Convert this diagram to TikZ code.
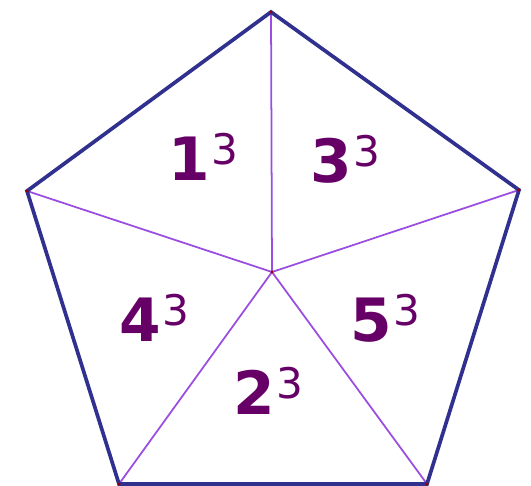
\documentclass[tikz,border=0pt]{standalone}
\usepackage{fontspec}
\setsansfont{DejaVu Sans}
\usepackage{xcolor}
\usetikzlibrary{positioning}
\definecolor{edgeblue}{HTML}{30308F}
\definecolor{spoke}{HTML}{9A4DE0}
\definecolor{numpurple}{HTML}{660066}
\tikzset{
  cube/.style={text=numpurple, font=\sffamily\bfseries\fontsize{34}{34}\selectfont, inner sep=0pt},
}
\newcommand{\cubed}[1]{#1\textsuperscript{\mdseries\fontsize{24}{24}\selectfont\kern1pt 3}}

\begin{document}
\begin{tikzpicture}[x=0.02cm, y=-0.02cm]
    \useasboundingbox (0,0) rectangle (531,486);
    \coordinate (t) at (271,12);
    \coordinate (r) at (519,190);
    \coordinate (br) at (427,484);
    \coordinate (bl) at (119,484);
    \coordinate (l) at (27,191);
    \coordinate (c) at (272,272);
    \foreach \v in {t,r,br,bl,l} { \draw[spoke, line width=1pt] (c) -- (\v); }
    \draw[edgeblue, line width=2.1pt, line join=miter] (t) -- (r) -- (br) -- (bl) -- (l) -- cycle;
    \foreach \v in {t,r,br,bl,l,c} { \fill[red!60!black] (\v) circle (1.6); }
    \node[cube] (one) at (204,157) {\cubed{1}};
    \node[cube] (three) at (346,159) {\cubed{3}};
    \node[cube] (four) at (155,318) {\cubed{4}};
    \node[cube] (five) at (386,318) {\cubed{5}};
    \node[cube] (two) at (269,391) {\cubed{2}};
\end{tikzpicture}
\end{document}
